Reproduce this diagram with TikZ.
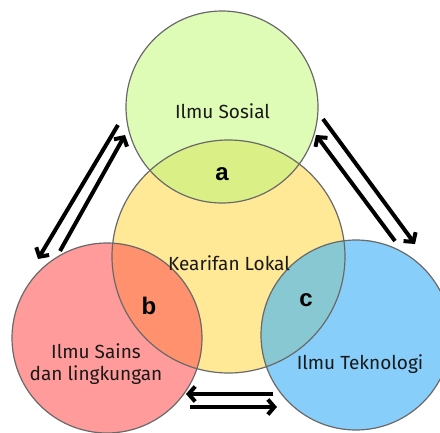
\documentclass[tikz,border=0pt]{standalone}
\usepackage{fontspec}
\usetikzlibrary{arrows.meta}
\newfontfamily\lblfont{Fira Sans}
\newfontfamily\letfont{Liberation Sans}
\definecolor{cyel}{RGB}{255,232,150}
\definecolor{cgrn}{RGB}{222,252,182}
\definecolor{cred}{RGB}{255,155,155}
\definecolor{cblu}{RGB}{135,206,250}
\definecolor{cova}{RGB}{218,240,135}
\definecolor{covb}{RGB}{255,145,110}
\definecolor{covc}{RGB}{136,200,210}
\definecolor{cedge}{RGB}{105,105,105}
\definecolor{ctxt}{RGB}{25,25,25}
\tikzset{
  ring/.style={circle, draw=cedge, line width=1.2pt, inner sep=0pt},
  lbl/.style={font=\lblfont\fontsize{19}{23}\selectfont, text=ctxt, align=center, inner sep=0pt},
  let/.style={font=\letfont\bfseries\fontsize{24}{26}\selectfont, text=black, inner sep=0pt},
  arr/.style={line width=4pt, -{Straight Barb[length=6.5pt,width=15pt,line width=4pt]}}
}
\begin{document}
\begin{tikzpicture}[x=1pt,y=-1pt]
\useasboundingbox (0,0) rectangle (440,432);
\clip (0,0) rectangle (440,432);
% fills
\fill[cyel] (228.5,256.5) circle (116.5);
\fill[cgrn] (222,107) circle (96);
\fill[cred] (107,338) circle (95);
\fill[cblu] (356,335) circle (95);
\begin{scope}
  \clip (228.5,256.5) circle (116.5);
  \fill[cova] (222,107) circle (96);
  \fill[covb] (107,338) circle (95);
  \fill[covc] (356,335) circle (95);
\end{scope}
% circles (outlines) as named nodes
\node[ring, minimum size=233pt] (Y) at (228.5,256.5) {};
\node[ring, minimum size=192pt] (G) at (222,107) {};
\node[ring, minimum size=190pt] (R) at (107,338) {};
\node[ring, minimum size=190pt] (B) at (356,335) {};
% labels
\node[lbl] (tG) at (222.5,111) {Ilmu Sosial};
\node[lbl] (tY) at (229,263) {Kearifan Lokal};
\node[lbl] (tR) at (96,364) {Ilmu Sains\\[-1pt]dan lingkungan};
\node[lbl] (tB) at (360,364) {Ilmu Teknologi};
\node[let] (la) at (222,174) {a};
\node[let] (lb) at (149,306) {b};
\node[let] (lc) at (306,300) {c};
% arrow end points
\coordinate (l1s) at (118,125);
\coordinate (l1e) at (38,259);
\coordinate (l2s) at (60,251);
\coordinate (l2e) at (125,135);
\coordinate (r1s) at (323,119);
\coordinate (r1e) at (415,244);
\coordinate (r2s) at (395,241);
\coordinate (r2e) at (316,135);
\coordinate (b1s) at (273,394);
\coordinate (b1e) at (186,394);
\coordinate (b2s) at (190,407);
\coordinate (b2e) at (277,407);
\draw[arr] (l1s) -- (l1e);
\draw[arr] (l2s) -- (l2e);
\draw[arr] (r1s) -- (r1e);
\draw[arr] (r2s) -- (r2e);
\draw[arr] (b1s) -- (b1e);
\draw[arr] (b2s) -- (b2e);
\end{tikzpicture}
\end{document}
